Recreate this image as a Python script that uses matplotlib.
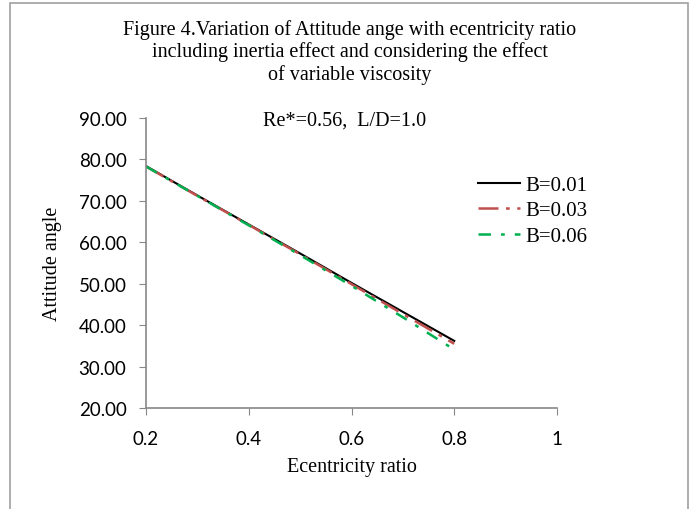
import matplotlib
matplotlib.use("Agg")
import matplotlib.pyplot as plt
from matplotlib.patches import Rectangle

ecc = [0.2, 0.3, 0.4, 0.5, 0.6, 0.7, 0.8]
b001 = [78.4, 71.3, 64.3, 57.3, 50.2, 43.2, 36.2]
b003 = [78.3, 71.2, 64.2, 57.1, 49.9, 42.7, 35.5]
b006 = [78.3, 71.2, 64.1, 56.9, 49.5, 41.9, 34.1]
labels = ["B=0.01", "B=0.03", "B=0.06"]
xticks = [0.2, 0.4, 0.6, 0.8, 1.0]
xticklabels = ["0.2", "0.4", "0.6", "0.8", "1"]
yticks = [20, 30, 40, 50, 60, 70, 80, 90]

W, H = 691, 510
fig = plt.figure(figsize=(W / 100, H / 100), dpi=100)
fig.patch.set_facecolor("white")
fig.add_artist(Rectangle((10 / W, -0.02), 678 / W, 1.02 - 4 / H,
                         transform=fig.transFigure, fill=False,
                         edgecolor="#a0a0a0", linewidth=1.2))

ax = fig.add_axes([146 / W, 1 - 409 / H, (557 - 146) / W, (409 - 119) / H])
ax.plot(ecc, b001, color="black", lw=1.5, label=labels[0])
ax.plot(ecc, b003, color="#C0504D", lw=1.8, dashes=(8, 3, 1.5, 3), label=labels[1])
ax.plot(ecc, b006, color="#00B050", lw=1.8, dashes=(5, 4, 1.5, 4), label=labels[2])

ax.set_xlim(0.2, 1.0)
ax.set_ylim(20, 90)
ax.set_xticks(xticks)
ax.set_xticklabels(xticklabels)
ax.set_yticks(yticks)
ax.set_yticklabels([f"{v:.2f}" for v in yticks])
for s in ["top", "right"]:
    ax.spines[s].set_visible(False)
for s in ["left", "bottom"]:
    ax.spines[s].set_color("#888888")
    ax.spines[s].set_linewidth(1.2)
ax.tick_params(axis="both", direction="out", length=5, color="#888888",
               labelsize=13.5)
ax.tick_params(axis="y", pad=9)
ax.tick_params(axis="x", pad=11)
for lab in ax.get_xticklabels() + ax.get_yticklabels():
    lab.set_fontfamily("Lato")

serif = "Liberation Serif"
fs = 14.5
fig.text(350 / W, 1 - 30 / H, "Figure 4.Variation of Attitude ange with ecentricity ratio",
         ha="center", va="center", fontsize=fs, family=serif)
fig.text(350 / W, 1 - 52 / H, "including inertia effect and considering the effect",
         ha="center", va="center", fontsize=fs, family=serif)
fig.text(350 / W, 1 - 75 / H, "of variable viscosity",
         ha="center", va="center", fontsize=fs, family=serif)
fig.text(345 / W, 1 - 121 / H, "Re*=0.56,  L/D=1.0",
         ha="center", va="center", fontsize=fs, family=serif)
ax.set_xlabel("Ecentricity ratio", fontsize=fs, family=serif, labelpad=7)
ax.set_ylabel("Attitude angle", fontsize=fs, family=serif, labelpad=12)

leg = ax.legend(loc="upper left", bbox_to_anchor=(468 / W, 1 - 166 / H),
                bbox_transform=fig.transFigure, frameon=False,
                prop={"family": serif, "size": 15}, handlelength=2.0,
                handletextpad=0.25, labelspacing=0.28, borderpad=0)

fig.savefig("out.png", dpi=100, facecolor="white")
